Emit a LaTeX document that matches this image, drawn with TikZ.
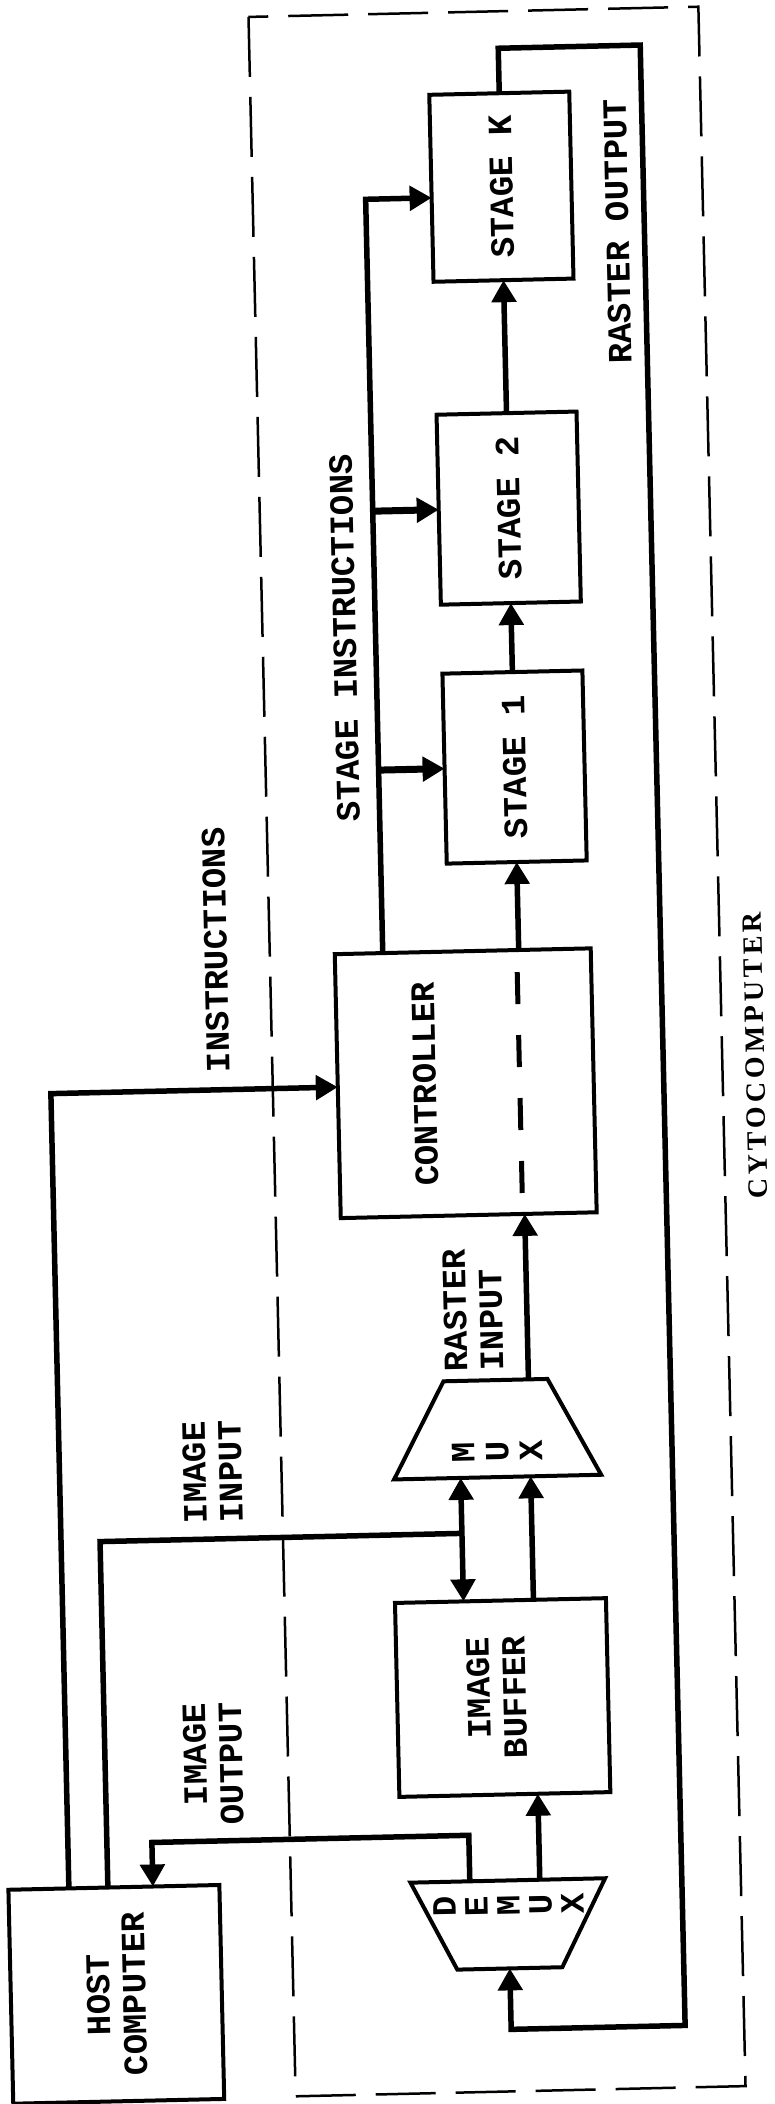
\documentclass[tikz,border=0pt]{standalone}
\usepackage{fontspec}
\usepackage{tikz}
\newfontfamily\twfont{Liberation Mono}
\newfontfamily\cytofont{Liberation Serif}[LetterSpace=14]
\usetikzlibrary{arrows.meta,positioning,shapes.geometric}

\begin{document}
\begin{tikzpicture}[
                    x=1pt, y=-1pt,
                    >={Triangle[length=22pt,width=24pt]},
                    box/.style={
                        draw,
                        line width=4pt,
                        inner sep=0pt,
                        outer sep=0pt
                    },
                    mx/.style={
                        trapezium,
                        draw,
                        line width=4pt,
                        outer sep=0pt
                    },
                    lbl/.style={
                        rotate=90,
                        inner sep=0pt,
                        font=\twfont\bfseries\fontsize{34}{36}\selectfont
                    },
                    conn/.style={line width=5.5pt},
                    wide/.style={line width=7pt}
                ]

                    \useasboundingbox (0,0) rectangle (774,2104);
                    \begin{scope}[rotate around={1.3:(387,1052)}, transform shape]

                    % Boxes
                    \node[box, minimum width=140pt, minimum height=190pt] (stg1) at (521,770) {};
                    \node[box, minimum width=140pt, minimum height=190pt] (stg2) [above=69pt of stg1] {};
                    \node[box, minimum width=140pt, minimum height=187pt] (stgK) [above=133pt of stg2] {};
                    \node[box, minimum width=256pt, minimum height=264pt] (ctl) at (465,1085) {};
                    \node[mx, inner xsep=52pt, inner ysep=48.5pt,
                          trapezium left angle=62, trapezium right angle=62] (mux) at (488,1431) {};
                    \node[box, minimum width=211pt, minimum height=194pt] (buf) at (488,1700) {};
                    \node[mx, inner xsep=52.5pt, inner ysep=44pt,
                          trapezium left angle=117, trapezium right angle=117] (dmx) at (489,1927) {};
                    \node[box, minimum width=211pt, minimum height=214pt] (host) at (95,1988) {};

                    % Labels
                    \node[lbl] (stgKtxt) at (stgK) {STAGE K};
                    \node[lbl] (stg2txt) at (stg2) {STAGE 2};
                    \node[lbl] (stg1txt) at (stg1) {STAGE 1};
                    \node[lbl] (ctltxt) at ([xshift=-41pt]ctl.center) {CONTROLLER};
                    \node[lbl, align=center] (muxtxt) at ([yshift=-23pt]mux.center) {M\\[-2pt]U\\[-2pt]X};
                    \node[lbl, align=right] (buftxt) at ([xshift=-6pt]buf.center) {IMAGE\\BUFFER};
                    \node[lbl, align=center] (dmxtxt) at ([yshift=19pt]dmx.center) {D\\[-4pt]E\\[-4pt]M\\[-4pt]U\\[-4pt]X};
                    \node[lbl, align=center] (hosttxt) at (host) {HOST\\COMPUTER};
                    \node[lbl] (rotxt) at (636,237) {RASTER OUTPUT};
                    \node[lbl] (sitxt) at (354,637) {STAGE INSTRUCTIONS};
                    \node[lbl] (instxt) at (218,946) {INSTRUCTIONS};
                    \node[lbl, align=left] (ritxt) at (467,1312) {RASTER\\INPUT};
                    \node[lbl, align=center] (iitxt) at (203,1468) {IMAGE\\INPUT};
                    \node[lbl, align=right] (iotxt) at (197,1760) {IMAGE\\OUTPUT};
                    \node[rotate=90, inner sep=0pt,
                          font=\cytofont\bfseries\fontsize{28}{30}\selectfont] (cytotxt) at (755,1064) {CYTOCOMPUTER};

                    % Corner points
                    \coordinate (rotop) at (663,51);
                    \coordinate (robot) at (663,2032);
                    \coordinate (sitop) at (385,199);
                    \coordinate (insc) at (50,1086);
                    \coordinate (iic) at (89,1535);
                    \coordinate (bus) at (451,1535);
                    \coordinate (ioc) at (134,1837);

                    % Pipeline
                    \draw[conn,->] (stg1) -- (stg2);
                    \draw[conn,->] (stg2) -- (stgK);
                    \draw[conn,->] (ctl.north -| stg1) -- (stg1);
                    \draw[conn,->] (mux.north -| stg1) -- (ctl.south -| stg1);
                    \draw[conn,->] (buf.north -| stg1) -- (mux.south -| stg1);
                    \draw[conn,->] (dmx.north -| stg1) -- (buf.south -| stg1);
                    \draw[conn,->] (stgK) |- (rotop) -- (robot) -| (dmx);

                    % Instructions
                    \draw[conn,->] (ctl.north -| sitop) -- (sitop) -- (sitop -| stgK.west);
                    \draw[wide,->] (stg2.west -| sitop) -- (stg2.west);
                    \draw[wide,->] (stg1.west -| sitop) -- (stg1.west);
                    \draw[conn,->] (host.north -| insc) -- (insc) -- (insc -| ctl.west);

                    % Image in and out
                    \draw[conn] (host.north -| iic) -- (iic) -- (bus);
                    \draw[conn,<->] (mux.south -| bus) -- (buf.north -| bus);
                    \draw[conn,->] (dmx.north -| bus) |- (ioc) -- (host.north -| ioc);

                    % Controller split
                    \draw[line width=5pt, dash pattern=on 32pt off 31pt] (519,975) -- (519,1198);

                    % Cytocomputer frame
                    \draw[line width=2.5pt, dash pattern=on 60pt off 20pt] (272,14) rectangle (722,2094);

                    \end{scope}
                \end{tikzpicture}
\end{document}
